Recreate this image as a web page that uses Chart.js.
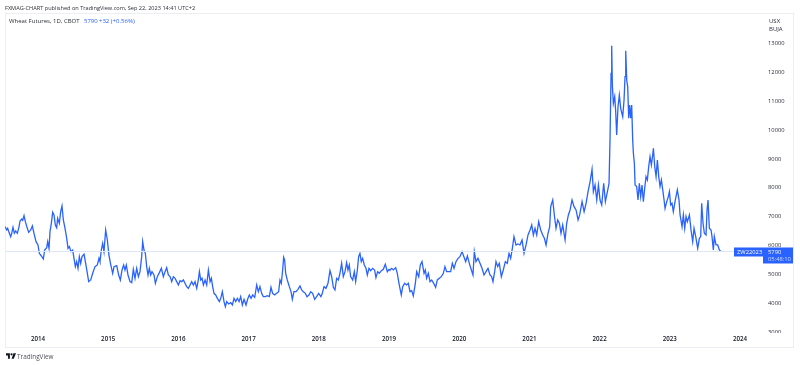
<!DOCTYPE html>
<html lang="en">
<head>
<meta charset="UTF-8">
<title>Wheat Futures</title>
<script src="https://cdn.jsdelivr.net/npm/chart.js"></script>
<style>
    html, body { margin: 0; padding: 0; background: #fff; overflow: hidden; }
    body { width: 800px; height: 365px; position: relative; font-family: "Open Sans", sans-serif; }
    canvas { position: absolute; left: 0; top: 0; }
    .txt { position: absolute; white-space: nowrap; font-size: 6px; line-height: 9px; color: #2a2e39; }
    .blue { color: #2962ff; }
</style>
</head>
<body>
<canvas id="wheat" width="800" height="365"></canvas>
<div class="txt" style="left:5px;top:4px;font-size:5.6px">FXMAG-CHART published on TradingView.com, Sep 22, 2023 14:41 UTC+2</div>
<div class="txt" style="left:9px;top:17px">Wheat Futures, 1D, CBOT</div>
<div class="txt blue" style="left:84px;top:17px">5790</div>
<div class="txt blue" style="left:99px;top:17px">+32 (+0.56%)</div>
<div class="txt" style="left:769px;top:18px;line-height:7.6px">USX<br>BUJA</div>
<svg style="position:absolute;left:6px;top:353px" width="10" height="6" viewBox="0 0 36 20">
    <path fill="#131722" d="M14 20H7V8H0V0h14zM28 20h-8L27 0h9z"></path><circle cx="20" cy="4" r="4" fill="#131722"></circle>
</svg>
<div class="txt" style="left:17px;top:352px;font-size:6.4px;color:#50535e">TradingView</div>

<script>
    // years as decimals, prices in US cents per bushel
    const dates = [
        2013.53,2013.554,2013.568,2013.587,2013.611,2013.625,2013.644,2013.663,2013.682,2013.706,2013.73,2013.744,2013.768,2013.782,2013.801,2013.82,2013.848,2013.867,2013.896,2013.92,2013.943,2013.972,
        2014.0,2014.019,2014.048,2014.076,2014.095,2014.124,2014.138,2014.157,2014.171,2014.19,2014.209,2014.228,2014.247,2014.266,2014.28,2014.304,2014.323,2014.342,2014.361,2014.385,2014.409,2014.428,2014.447,2014.47,2014.494,2014.513,2014.532,2014.551,2014.57,2014.589,2014.608,2014.627,2014.656,2014.679,2014.703,2014.722,2014.751,2014.779,2014.812,2014.845,2014.869,2014.883,2014.902,2014.921,2014.94,2014.964,2014.988,
        2015.01,2015.035,2015.064,2015.083,2015.121,2015.149,2015.173,2015.197,2015.22,2015.239,2015.258,2015.282,2015.311,2015.335,2015.358,2015.382,2015.406,2015.43,2015.453,2015.477,2015.491,2015.51,2015.529,2015.548,2015.567,2015.586,2015.605,2015.624,2015.653,2015.672,2015.7,2015.729,2015.757,2015.786,2015.81,2015.833,2015.857,2015.881,2015.905,2015.928,2015.952,2015.976,
        2016.0,2016.023,2016.047,2016.071,2016.094,2016.118,2016.142,2016.166,2016.189,2016.213,2016.237,2016.261,2016.284,2016.299,2016.318,2016.337,2016.356,2016.38,2016.403,2016.427,2016.451,2016.47,2016.488,2016.507,2016.531,2016.555,2016.584,2016.603,2016.626,2016.65,2016.669,2016.688,2016.716,2016.745,2016.769,2016.792,2016.816,2016.84,2016.864,2016.887,2016.911,2016.935,2016.963,2016.987,
        2017.01,2017.035,2017.058,2017.087,2017.115,2017.139,2017.162,2017.186,2017.209,2017.238,2017.266,2017.295,2017.319,2017.342,2017.371,2017.399,2017.428,2017.447,2017.466,2017.485,2017.499,2017.513,2017.528,2017.551,2017.58,2017.604,2017.623,2017.646,2017.675,2017.703,2017.732,2017.756,2017.779,2017.808,2017.831,2017.86,2017.884,2017.912,2017.941,2017.969,2017.998,
        2018.03,2018.05,2018.074,2018.102,2018.131,2018.159,2018.183,2018.207,2018.23,2018.254,2018.278,2018.301,2018.325,2018.349,2018.373,2018.396,2018.415,2018.434,2018.453,2018.482,2018.506,2018.525,2018.549,2018.567,2018.586,2018.605,2018.624,2018.648,2018.672,2018.691,2018.715,2018.738,2018.767,2018.795,2018.814,2018.838,2018.862,2018.891,2018.919,2018.947,2018.976,
        2019.0,2019.014,2019.038,2019.061,2019.095,2019.118,2019.142,2019.156,2019.175,2019.195,2019.223,2019.251,2019.275,2019.299,2019.323,2019.346,2019.375,2019.394,2019.423,2019.446,2019.47,2019.499,2019.517,2019.536,2019.56,2019.584,2019.608,2019.636,2019.664,2019.688,2019.717,2019.745,2019.774,2019.797,2019.821,2019.85,2019.878,2019.902,2019.926,2019.954,2019.983,
        2020.01,2020.04,2020.063,2020.092,2020.116,2020.144,2020.173,2020.196,2020.215,2020.239,2020.267,2020.296,2020.325,2020.353,2020.382,2020.41,2020.438,2020.462,2020.481,2020.505,2020.524,2020.548,2020.571,2020.6,2020.628,2020.657,2020.685,2020.709,2020.733,2020.757,2020.78,2020.809,2020.837,2020.866,2020.895,2020.923,2020.952,2020.98,
        2021.009,2021.033,2021.056,2021.08,2021.104,2021.132,2021.161,2021.189,2021.213,2021.237,2021.265,2021.289,2021.303,2021.332,2021.355,2021.379,2021.403,2021.427,2021.45,2021.474,2021.508,2021.531,2021.555,2021.579,2021.607,2021.636,2021.664,2021.693,2021.716,2021.75,2021.779,2021.807,2021.835,2021.864,2021.892,2021.911,2021.935,2021.959,2021.983,
        2022.006,2022.03,2022.058,2022.082,2022.111,2022.134,2022.148,2022.163,2022.172,2022.182,2022.196,2022.215,2022.229,2022.243,2022.262,2022.281,2022.3,2022.329,2022.348,2022.362,2022.372,2022.386,2022.4,2022.414,2022.428,2022.443,2022.457,2022.471,2022.481,2022.495,2022.505,2022.528,2022.547,2022.566,2022.585,2022.604,2022.623,2022.642,2022.661,2022.68,2022.699,2022.718,2022.737,2022.756,2022.766,2022.785,2022.804,2022.823,2022.842,2022.861,2022.88,2022.899,2022.918,2022.932,2022.956,2022.979,2022.994,
        2023.012,2023.031,2023.05,2023.074,2023.107,2023.131,2023.146,2023.174,2023.193,2023.212,2023.231,2023.25,2023.279,2023.302,2023.326,2023.345,2023.369,2023.397,2023.421,2023.44,2023.454,2023.473,2023.492,2023.516,2023.53,2023.544,2023.563,2023.587,2023.601,2023.62,2023.634,2023.658,2023.682,2023.706,2023.725
    ];
    const prices = [
        6651,6535,6593,6454,6304,6420,6628,6420,6501,6420,6651,6847,6916,6870,7032,6824,6593,6454,6535,6674,6420,6131,
        6016,5727,5634,5530,5842,5923,6131,5900,6478,6766,7147,7055,6709,6616,6940,6766,7170,7367,6882,6593,6247,5900,5958,5784,5842,5554,5265,5438,5207,5611,5380,5611,5692,5380,5034,4745,4803,5034,5265,5323,5554,5438,5842,6073,5784,6535,6189,
        5669,5346,5034,5265,5300,4976,4803,5149,5323,5149,5323,4976,4745,4710,5172,4860,5207,4918,5091,5611,6131,5842,5727,5265,4976,5207,4976,5091,4976,4687,4918,5057,5207,4918,5091,5230,4976,4918,4745,4918,4860,4745,
        4629,4779,4745,4803,4687,4571,4514,4629,4745,4629,4745,4514,4803,5091,4803,4860,4629,4803,4629,5149,4745,4860,4571,4340,4283,4167,4052,4167,4398,4052,3879,4052,3971,4017,3936,4167,4052,4167,4052,4225,3936,4133,3936,4144,
        4283,4167,4283,4202,4629,4398,4571,4340,4225,4225,4260,4225,4548,4340,4283,4340,4398,4802,4687,5149,5588,5495,5034,4802,4571,4398,4133,4398,4398,4479,4595,4456,4398,4340,4225,4283,4398,4340,4133,4225,4340,
        4225,4340,4571,4514,4687,5126,4918,4548,4456,4860,4802,5034,5380,4918,5091,5403,5149,5322,4918,4802,5091,4745,5149,5611,5727,5438,5553,5322,5207,4976,5207,5126,5207,5149,4883,5091,5034,5126,5172,5345,5091,
        5172,5150,5207,5150,5230,5034,4687,4514,4283,4572,4687,4630,4687,4399,4433,4249,4687,5092,4918,5323,5438,5034,5150,4861,5034,4745,4803,4687,4549,4803,4861,4919,5034,5265,5092,5092,5092,5380,5207,5438,5554,
        5612,5785,5635,5438,5635,5380,5150,4976,5785,5438,5554,5380,5207,4976,5092,5207,4976,4918,4745,5092,5438,5265,5380,4918,5150,5438,5380,5727,5554,5900,6305,6016,6050,6016,6190,5727,6016,6363,
        6536,6709,6363,6594,6363,6825,6536,6363,6247,6016,6421,6652,7345,7575,7056,6594,6883,6767,6421,6709,6190,6767,7056,7229,7575,7345,7229,6883,7056,7518,7171,7460,7864,8211,8638,7864,8095,7575,8095,
        7575,7402,8153,7518,7864,8153,9655,11965,12924,11503,10926,11157,10637,9828,10810,11214,10752,10464,11041,11850,12750,11734,11503,10406,10868,10406,10868,9655,9193,8847,8096,8038,7576,8154,7692,8096,7518,7980,8385,8269,8731,9078,8789,9135,9366,8731,8385,8962,8385,8038,8269,7923,7576,7287,7518,7692,7865,
        7403,7461,7172,7518,7923,7576,7056,6652,7056,6594,7000,6825,7056,6537,6132,6594,6306,5901,6248,6306,7461,6768,6421,6363,7230,7576,6594,6537,6306,5843,6306,6017,6017,5843,5790
    ];
    const yearTicks = [2014, 2015, 2016, 2017, 2018, 2019, 2020, 2021, 2022, 2023, 2024];
    const priceTicks = [3000, 4000, 5000, 6000, 7000, 8000, 9000, 10000, 11000, 12000, 13000];
    const lastPrice = 5790;
    const xMin = 2013.53, xMax = 2024.37;

    // frame, clipped 3000 label and the price tag on the right
    const extras = {
        id: 'extras',
        beforeDraw(chart) {
            const c = chart.ctx;
            c.save();
            c.strokeStyle = '#eceef2';
            c.lineWidth = 1;
            c.strokeRect(5.5, 13.5, 788, 334);
            c.restore();
        },
        afterDraw(chart) {
            const c = chart.ctx;
            const y = chart.scales.y.getPixelForValue(lastPrice);
            c.save();
            c.fillStyle = '#fff';
            c.fillRect(766, 333, 26, 13);
            c.fillStyle = '#2962ff';
            c.fillRect(734, y - 4, 59, 9);
            c.fillRect(763, y + 4, 30, 8);
            c.font = '5.8px "Open Sans"';
            c.textBaseline = 'middle';
            c.fillStyle = '#fff';
            c.fillText('ZW22023', 737, y + 0.5);
            c.fillText(String(lastPrice), 768, y + 0.5);
            c.fillStyle = '#cfdcff';
            c.fillText('05:48:10', 768, y + 8);
            c.restore();
        }
    };

    new Chart(document.getElementById('wheat').getContext('2d'), {
        type: 'line',
        data: {
            datasets: [{
                data: [{ x: xMin, y: lastPrice }, { x: xMax, y: lastPrice }],
                borderColor: '#dde6f7',
                borderWidth: 1,
                pointRadius: 0
            }, {
                data: dates.map((d, i) => ({ x: d, y: prices[i] })),
                borderColor: '#2962ff',
                borderWidth: 1.3,
                pointRadius: 0,
                tension: 0
            }]
        },
        options: {
            responsive: false,
            animation: false,
            parsing: false,
            layout: { padding: { left: 5, right: 7, top: 13, bottom: 18 } },
            plugins: { legend: { display: false }, tooltip: { enabled: false } },
            scales: {
                x: {
                    type: 'linear',
                    min: xMin,
                    max: xMax,
                    afterBuildTicks(axis) { axis.ticks = yearTicks.map(v => ({ value: v })); },
                    afterFit(axis) { axis.height = 14; },
                    grid: { display: false, drawTicks: false },
                    border: { display: false },
                    ticks: {
                        autoSkip: false,
                        maxRotation: 0,
                        padding: 3,
                        color: '#131722',
                        font: { family: 'Open Sans', size: 6.2, weight: '600' },
                        callback: v => String(v)
                    }
                },
                y: {
                    position: 'right',
                    min: 2965,
                    max: 14056,
                    afterBuildTicks(axis) { axis.ticks = priceTicks.map(v => ({ value: v })); },
                    afterFit(axis) { axis.width = 27; },
                    grid: { display: false, drawTicks: false },
                    border: { display: false },
                    ticks: {
                        padding: 2,
                        color: '#2a2e39',
                        font: { family: 'Open Sans', size: 5.8 },
                        callback: v => String(v)
                    }
                }
            }
        },
        plugins: [extras]
    });
</script>
</body>
</html>
